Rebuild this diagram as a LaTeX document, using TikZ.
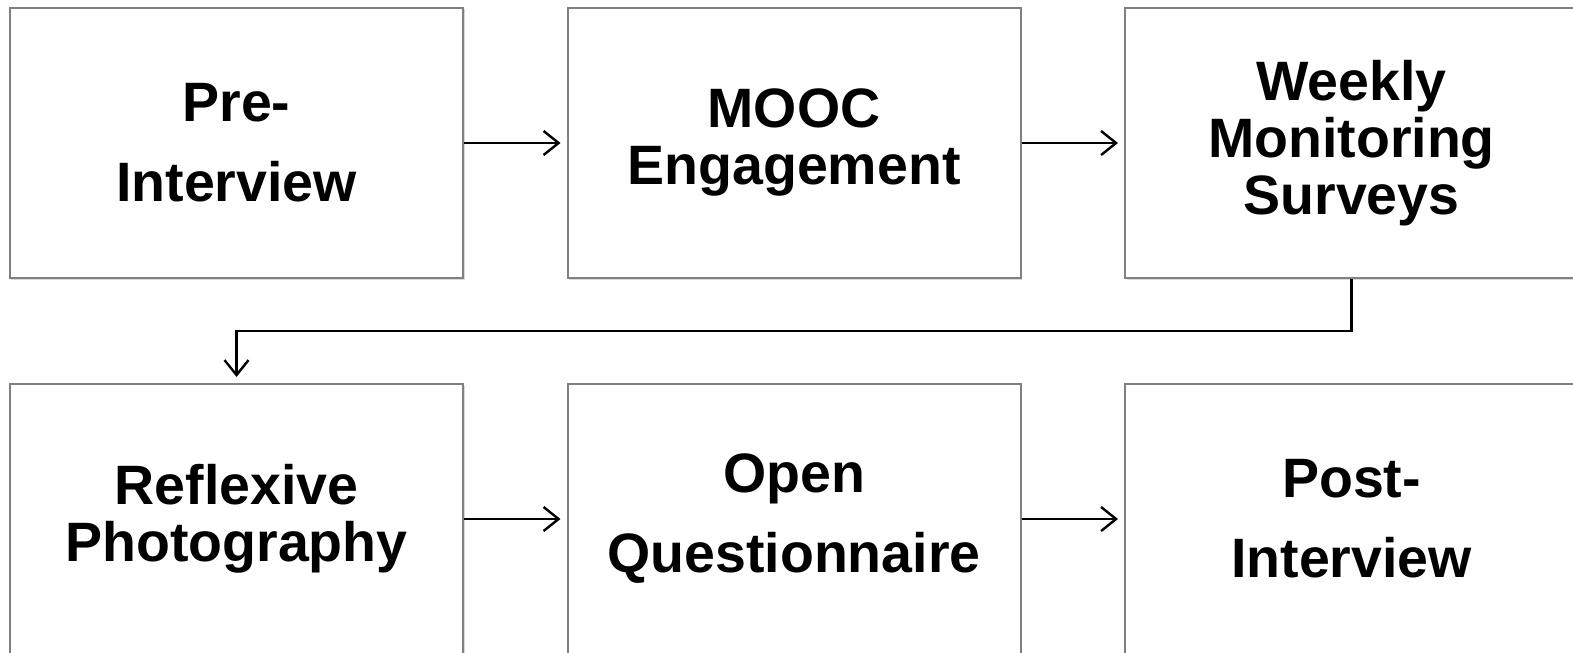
\documentclass[tikz,border=0pt]{standalone}
\usepackage{fontspec}
\setmainfont{Liberation Sans}
\usetikzlibrary{arrows.meta,shadows}
\begin{document}
\begin{tikzpicture}[x=1bp,y=-1bp,
  stage/.style={draw={rgb,255:red,128;green,128;blue,128}, line width=2bp, fill=white,
    minimum width=453bp, minimum height=270bp, inner sep=0pt, align=center,
    font=\fontsize{55.5bp}{57bp}\selectfont\bfseries,
    drop shadow={shadow xshift=1.5bp, shadow yshift=-1.5bp, opacity=0.3}},
  flow/.style={line width=2.4bp, -{Straight Barb[length=15bp,width=24bp,line width=2.4bp]}, shorten >=6bp}]
\node[stage] (a) at (236.5,143) {Pre-\\[23bp]Interview};
\node[stage] (b) at (794,143) {MOOC\\Engagement};
\node[stage] (c) at (1351.5,143) {Weekly\\Monitoring\\Surveys};
\node[stage] (d) at (236.5,519) {Reflexive\\Photography};
\node[stage] (e) at (794,519) {Open\\[23bp]Questionnaire};
\node[stage] (f) at (1351.5,519) {Post-\\[23bp]Interview};
\draw[flow] (a) -- (b);
\draw[flow] (b) -- (c);
\draw[flow] (d) -- (e);
\draw[flow] (e) -- (f);
\coordinate (k1) at (1351.5,331);
\coordinate (k2) at (236.5,331);
\draw[flow] (c.south) -- (k1) -- (k2) -- (d.north);
\pgfresetboundingbox
\path[use as bounding box] (0,0) rectangle (1573,653);
\end{tikzpicture}
\end{document}
